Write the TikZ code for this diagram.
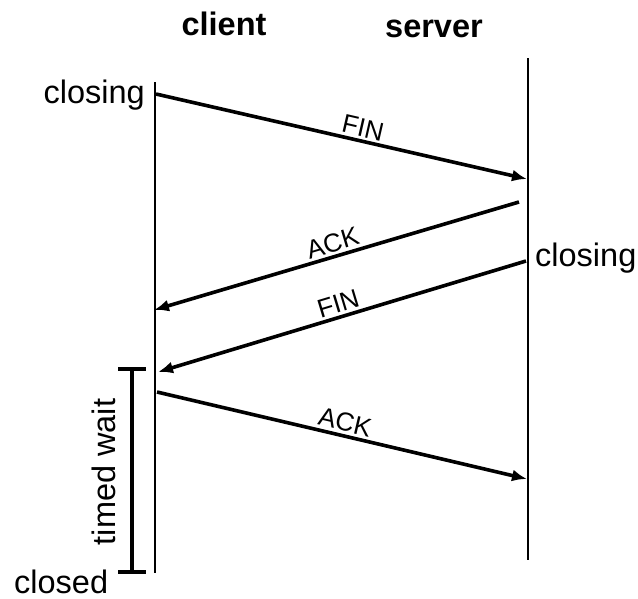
\documentclass[tikz,border=0pt]{standalone}
\usepackage{fontspec}
\setmainfont{Liberation Sans}
\usetikzlibrary{arrows.meta}
\begin{document}
\begin{tikzpicture}[x=1pt,y=-1pt,
  lifeline/.style={line width=2.6pt},
  msg/.style={line width=3.6pt,-{Latex[length=15pt,width=12pt]}},
  msglabel/.style={font=\fontsize{26}{30}\selectfont,sloped,above,inner sep=2.5pt},
  biglabel/.style={font=\fontsize{32.5}{38}\selectfont,inner sep=0pt},
  headlabel/.style={font=\fontsize{32.5}{38}\selectfont\bfseries,inner sep=0pt},
  bracket/.style={line width=4pt}]
\useasboundingbox (0,0) rectangle (638,598);
% lifelines
\coordinate (ctop) at (155,82);
\coordinate (cbot) at (155,573);
\coordinate (stop) at (528,58);
\coordinate (sbot) at (528,560);
\draw[lifeline] (ctop) -- (cbot);
\draw[lifeline] (stop) -- (sbot);
% headers
\node[headlabel,anchor=base] (client) at (224,35) {client};
\node[headlabel,anchor=base] (server) at (434,37) {server};
% state labels
\node[biglabel,anchor=base east] (closingc) at (145,103) {closing};
\node[biglabel,anchor=base west] (closings) at (535,266) {closing};
\node[biglabel,anchor=base west] (closed) at (14,593) {closed};
\node[biglabel,anchor=base,rotate=90] (timed) at (115,472) {timed wait};
% message endpoints
\coordinate (f1s) at (156,94);
\coordinate (f1e) at (527,179);
\coordinate (a1s) at (519,202);
\coordinate (a1e) at (154,310);
\coordinate (f2s) at (526,261);
\coordinate (f2e) at (158,372);
\coordinate (a2s) at (157,392);
\coordinate (a2e) at (527,479);
% messages
\draw[msg] (f1s) -- node[msglabel,pos=0.55] (finA) {FIN} (f1e);
\draw[msg] (a1s) -- node[msglabel,pos=0.5] (ackA) {ACK} (a1e);
\draw[msg] (f2s) -- node[msglabel,pos=0.5] (finB) {FIN} (f2e);
\draw[msg] (a2s) -- node[msglabel,pos=0.5] (ackB) {ACK} (a2e);
% timed wait bracket
\coordinate (bt) at (132,369);
\coordinate (bb) at (132,572);
\draw[bracket] (bt) -- (bb);
\draw[bracket] (118,369) -- (146,369);
\draw[bracket] (118,572) -- (146,572);
\end{tikzpicture}
\end{document}
